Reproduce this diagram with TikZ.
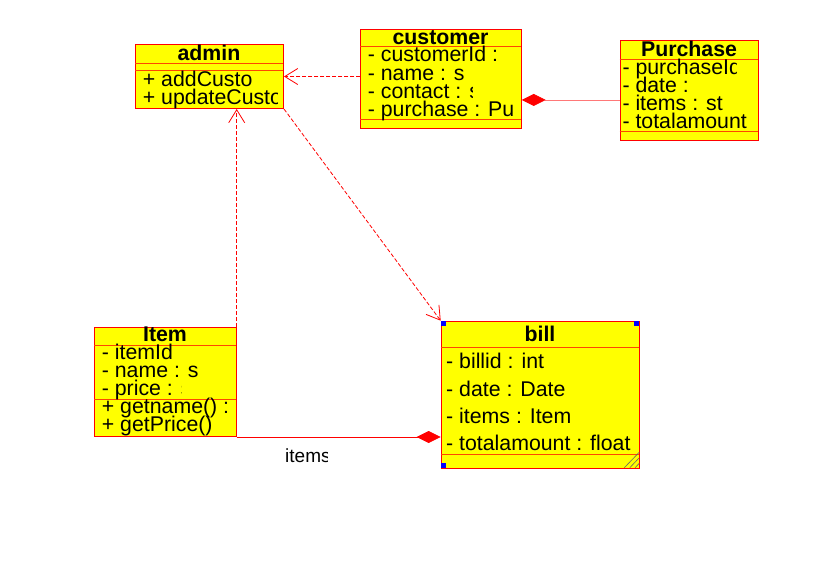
\documentclass[tikz,border=0pt]{standalone}
\usepackage{fontspec}
\setmainfont{Liberation Sans}
\usetikzlibrary{arrows.meta}
\definecolor{umlred}{RGB}{255,0,0}
\definecolor{umlsep}{RGB}{255,70,0}
\definecolor{umlyellow}{RGB}{255,255,0}
\definecolor{umlpink}{RGB}{255,120,120}
\definecolor{handleblue}{RGB}{0,0,255}
\newcommand\umlrowfont{\fontsize{21.3}{24}\selectfont}
\newcommand\umlnamefont{\fontsize{21.3}{24}\selectfont\bfseries}
\newcommand\umllabelfont{\fontsize{19}{22}\selectfont}
\newcommand\umlrow[5]{%
  \begin{scope}
    \clip (#2-2,#3-24) rectangle (#4,#3+7);
    \node[rowtext] (#1) at (#2,#3) {#5};
  \end{scope}}
\begin{document}
\begin{tikzpicture}[x=1pt,y=-1pt,
  umlbox/.style={draw=umlred, fill=umlyellow, line width=1pt, inner sep=0pt, anchor=north west},
  sepline/.style={draw=umlsep, line width=1pt},
  rowtext/.style={anchor=base west, inner sep=0pt, font=\umlrowfont, text height=13.5pt, text depth=3.3pt},
  nametext/.style={anchor=base, inner sep=0pt, font=\umlnamefont, text height=13.5pt, text depth=3.3pt},
  dep/.style={draw=umlred, line width=0.8pt, dash pattern=on 4pt off 2pt,
    -{Straight Barb[length=13pt,width=16pt,line width=0.8pt]}},
  comp/.style={line width=0.8pt,
    -{Diamond[length=24pt,width=12pt,fill=umlred,color=umlred]}},
  handle/.style={fill=handleblue, draw=none}]
\useasboundingbox[fill=white] (0,0) rectangle (835,574);

% ---------- class boxes ----------
\node[umlbox, minimum width=148, minimum height=64] (admin) at (135,44) {};
\node[umlbox, minimum width=160.4, minimum height=98.7] (customer) at (360.3,29) {};
\node[umlbox, minimum width=138.6, minimum height=99.7] (purchase) at (619.7,40.3) {};
\node[umlbox, minimum width=141.7, minimum height=109.3] (item) at (94,326.7) {};
\node[umlbox, minimum width=198.6, minimum height=147.6] (bill) at (440.7,320.7) {};

% ---------- compartment lines ----------
\draw[sepline] (135,63) -- (283,63);
\draw[sepline] (135,70.5) -- (283,70.5);
\draw[sepline] (360.3,46.3) -- (520.7,46.3);
\draw[sepline] (360.3,119.3) -- (520.7,119.3);
\draw[sepline] (619.7,59) -- (758.3,59);
\draw[sepline] (619.7,131.7) -- (758.3,131.7);
\draw[sepline] (94,345) -- (235.7,345);
\draw[sepline] (94,399.3) -- (235.7,399.3);
\draw[sepline] (440.7,347.3) -- (639.3,347.3);
\draw[sepline] (440.7,454.3) -- (639.3,454.3);

% ---------- admin ----------
\node[nametext] (adminName) at (209,60) {admin};
\umlrow{adminOp1}{142.7}{86.7}{281}{+ addCusto}
\umlrow{adminOp2}{142.7}{104}{277}{+ updateCusto}

% ---------- customer ----------
\node[nametext] (customerName) at (440.5,44) {customer};
\umlrow{custA1}{367.7}{61}{518}{- customerId :}
\umlrow{custA2}{367.7}{80}{518}{- name : s}
\umlrow{custA3}{367.7}{98.3}{472}{- contact : s}
\umlrow{custA4}{367.7}{116.7}{517}{- purchase : Pu}

% ---------- Purchase ----------
\node[nametext] (purchaseName) at (689,56.7) {Purchase};
\umlrow{purA1}{622.3}{74.3}{736}{- purchaseId}
\umlrow{purA2}{622.3}{92.3}{692}{- date :}
\umlrow{purA3}{622.3}{110.3}{722}{- items : st}
\umlrow{purA4}{622.3}{128.3}{756}{- totalamount}

% ---------- Item ----------
\node[nametext] (itemName) at (165,341.7) {Item};
\umlrow{itemA1}{101.7}{359}{233}{- itemId}
\umlrow{itemA2}{101.7}{377.3}{233}{- name : s}
\umlrow{itemA3}{101.7}{395.7}{181}{- price : s}
\umlrow{itemO1}{101.7}{413.3}{233}{+ getname() :}
\umlrow{itemO2}{101.7}{431.7}{233}{+ getPrice()}

% ---------- bill ----------
\node[nametext] (billName) at (540,341.7) {bill};
\umlrow{billA1}{446}{368.3}{637}{- billid : int}
\umlrow{billA2}{446}{396}{637}{- date : Date}
\umlrow{billA3}{446}{423.3}{637}{- items : Item}
\umlrow{billA4}{446}{450}{637}{- totalamount : float}

% selection handles and resize grip on bill
\fill[handle] (440.7,320.7) rectangle (445.7,325.7);
\fill[handle] (634.3,320.7) rectangle (639.3,325.7);
\fill[handle] (440.7,463.3) rectangle (445.7,468.3);
\draw[black!60, line width=0.6pt] (624.3,467.7) -- (639.3,452.2);
\draw[black!60, line width=0.6pt] (629.8,467.7) -- (639.3,457.7);
\draw[black!60, line width=0.6pt] (635,467.7) -- (639.3,463.3);

% ---------- connectors ----------
\draw[dep] (customer.west |- admin.east) -- (admin.east);
\draw[dep] (item.north east) -- (item.north east |- admin.south);
\draw[dep] (admin.south east) -- (bill.north west);
\coordinate (purEnd) at ([yshift=-9.3pt]purchase.west);
\draw[comp, draw=umlpink] (purEnd) -- (customer.east |- purEnd);
\draw[comp, draw=umlred] (item.south east) -- (bill.west |- item.south east);

% role label
\begin{scope}
  \clip (283,440) rectangle (327,470);
  \node[anchor=base west, inner sep=0pt, font=\umllabelfont] (itemsLabel) at (285,462.7) {items};
\end{scope}
\end{tikzpicture}
\end{document}
